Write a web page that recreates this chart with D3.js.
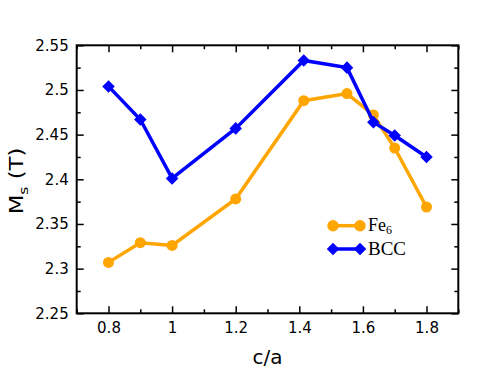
<!DOCTYPE html>
<html><head><meta charset="utf-8">
<script src="https://cdn.jsdelivr.net/npm/d3@7"></script>
<style>body{margin:0;background:#fff}</style>
</head><body>
<svg id="c" width="494" height="382"></svg>
<script>
const ca = [0.8, 0.9, 1.0, 1.2, 1.414, 1.55, 1.633, 1.7, 1.8];
const fe6 = [2.307, 2.329, 2.326, 2.378, 2.488, 2.496, 2.472, 2.435, 2.369];
const bcc = [2.504, 2.467, 2.401, 2.457, 2.533, 2.525, 2.464, 2.449, 2.425];
const xTicks = [0.8, 1, 1.2, 1.4, 1.6, 1.8];
const xTickLabels = ["0.8", "1", "1.2", "1.4", "1.6", "1.8"];
const yTicks = [2.25, 2.3, 2.35, 2.4, 2.45, 2.5, 2.55];
const yTickLabels = ["2.25", "2.3", "2.35", "2.4", "2.45", "2.5", "2.55"];
const seriesNames = ["Fe", "BCC"];

const L = 76.7, R = 458.3, T = 45.3, B = 313.3;
const svg = d3.select("#c");
const x = d3.scaleLinear().domain([0.7, 1.9]).range([L, R]);
const y = d3.scaleLinear().domain([2.25, 2.55]).range([B, T]);

const xMinor = d3.range(0.7, 1.91, 0.1).map(v => +v.toFixed(2)).filter(v => !xTicks.some(t => Math.abs(t - v) < 1e-6));
const yMinor = d3.range(2.275, 2.55, 0.05).map(v => +v.toFixed(3));

const tickStyle = g => { g.select(".domain").remove(); g.selectAll("line").attr("stroke", "#000").attr("stroke-width", 1.5); };
const font = "DejaVu Sans, Verdana, sans-serif";
const serif = "Liberation Serif, Times New Roman, serif";

// bottom
svg.append("g").attr("transform", `translate(0,${B})`)
  .call(d3.axisBottom(x).tickValues(xTicks).tickSize(-7).tickPadding(9).tickFormat((d,i)=>xTickLabels[i]))
  .call(tickStyle).call(g => g.selectAll("text").attr("font-family", font).attr("font-size", 15).attr("fill","#000"));
svg.append("g").attr("transform", `translate(0,${B})`)
  .call(d3.axisBottom(x).tickValues(xMinor).tickSize(-4).tickFormat("")).call(tickStyle);
// top
svg.append("g").attr("transform", `translate(0,${T})`)
  .call(d3.axisTop(x).tickValues(xTicks).tickSize(-7).tickFormat("")).call(tickStyle);
svg.append("g").attr("transform", `translate(0,${T})`)
  .call(d3.axisTop(x).tickValues(xMinor).tickSize(-4).tickFormat("")).call(tickStyle);
// left
svg.append("g").attr("transform", `translate(${L},0)`)
  .call(d3.axisLeft(y).tickValues(yTicks).tickSize(-7).tickPadding(8).tickFormat((d,i)=>yTickLabels[i]))
  .call(tickStyle).call(g => g.selectAll("text").attr("font-family", font).attr("font-size", 15).attr("fill","#000"));
svg.append("g").attr("transform", `translate(${L},0)`)
  .call(d3.axisLeft(y).tickValues(yMinor).tickSize(-4).tickFormat("")).call(tickStyle);
// right
svg.append("g").attr("transform", `translate(${R},0)`)
  .call(d3.axisRight(y).tickValues(yTicks).tickSize(-7).tickFormat("")).call(tickStyle);
svg.append("g").attr("transform", `translate(${R},0)`)
  .call(d3.axisRight(y).tickValues(yMinor).tickSize(-4).tickFormat("")).call(tickStyle);

svg.append("rect").attr("x", L).attr("y", T).attr("width", R-L).attr("height", B-T)
  .attr("fill","none").attr("stroke","#000").attr("stroke-width",2);

const line = d3.line().x(d => x(d[0])).y(d => y(d[1]));
const fePts = ca.map((c,i)=>[c, fe6[i]]);
const bccPts = ca.map((c,i)=>[c, bcc[i]]);
const orange = "#FFA500", blue = "#0000FF";

svg.append("path").attr("d", line(fePts)).attr("fill","none").attr("stroke",orange).attr("stroke-width",3.5);
svg.selectAll(".fe").data(fePts).enter().append("circle")
  .attr("cx", d=>x(d[0])).attr("cy", d=>y(d[1])).attr("r",5.5).attr("fill",orange);
svg.append("path").attr("d", line(bccPts)).attr("fill","none").attr("stroke",blue).attr("stroke-width",3.5);
const diamond = d3.symbol().type(d3.symbolDiamond2).size(100);
svg.selectAll(".bc").data(bccPts).enter().append("path")
  .attr("d", diamond).attr("transform", d=>`translate(${x(d[0])},${y(d[1])})`).attr("fill",blue);

// legend
const lg = svg.append("g");
const ly1 = 225.7, ly2 = 249;
lg.append("line").attr("x1",333).attr("x2",360).attr("y1",ly1).attr("y2",ly1).attr("stroke",orange).attr("stroke-width",3.5);
[333,360].forEach(cx => lg.append("circle").attr("cx",cx).attr("cy",ly1).attr("r",5.7).attr("fill",orange));
const t1 = lg.append("text").attr("x",368).attr("y",ly1+5).attr("font-family",serif).attr("font-size",18).attr("fill","#000");
t1.append("tspan").text(seriesNames[0]);
t1.append("tspan").attr("font-size",12).attr("dy",3).text("6");
lg.append("line").attr("x1",333).attr("x2",360).attr("y1",ly2).attr("y2",ly2).attr("stroke",blue).attr("stroke-width",3.5);
[333,360].forEach(cx => lg.append("path").attr("d",diamond).attr("transform",`translate(${cx},${ly2})`).attr("fill",blue));
lg.append("text").attr("x",368).attr("y",ly2+6).attr("font-family",serif).attr("font-size",19).attr("fill","#000").text(seriesNames[1]);

// axis titles
svg.append("text").attr("x",(L+R)/2).attr("y",364).attr("text-anchor","middle")
  .attr("font-family",font).attr("font-size",20).attr("fill","#000").text("c/a");
const yt = svg.append("text").attr("transform","translate(23,181) rotate(-90) scale(1.2,1)").attr("text-anchor","middle")
  .attr("font-family",font).attr("font-size",19).attr("fill","#000");
yt.append("tspan").text("M");
yt.append("tspan").attr("font-size",13).attr("dy",5).text("s");
yt.append("tspan").attr("dy",-5).text(" (T)");
</script>
</body></html>
